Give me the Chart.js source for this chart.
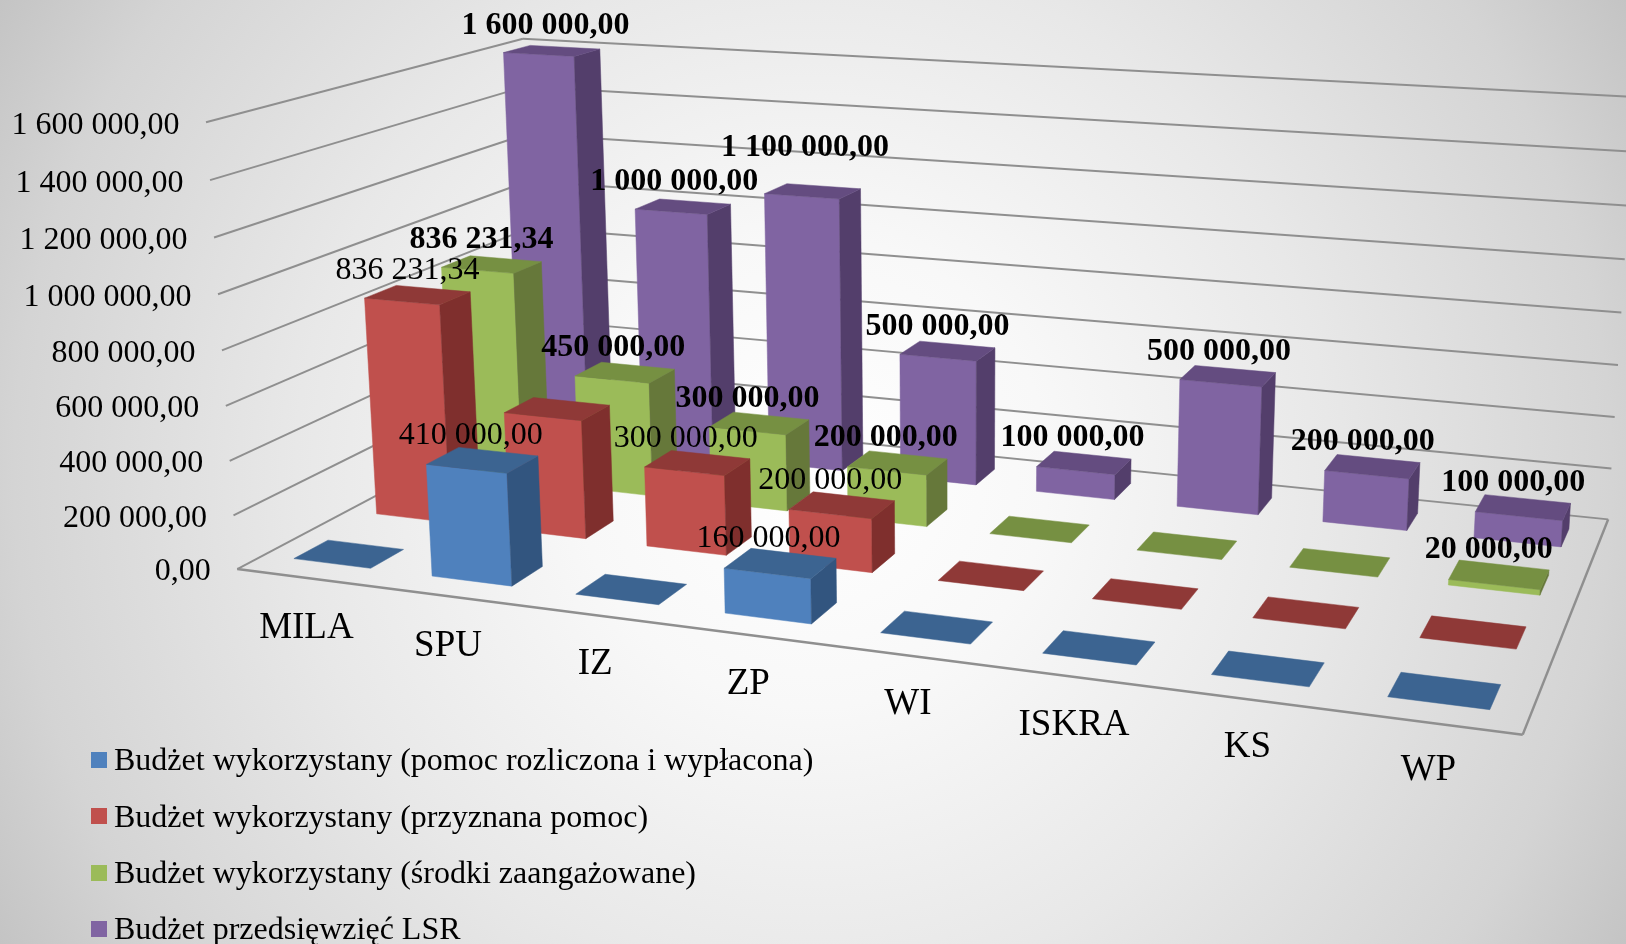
<!DOCTYPE html>
<html lang="pl">
<head>
<meta charset="utf-8">
<title>Budżet</title>
<script src="https://cdn.jsdelivr.net/npm/chart.js@4"></script>
<style>
  html, body { margin: 0; padding: 0; width: 1626px; height: 944px; overflow: hidden; }
  body { background: radial-gradient(circle 940px at 50% 50%, #ffffff 0%, #f8f8f8 25%, #e8e8e8 55%, #d4d4d4 85%, #c4c4c4 100%); }
  canvas { display: block; }
</style>
</head>
<body>
<canvas id="chart" width="1626" height="944"></canvas>
<script>
const categories = ["MILA", "SPU", "IZ", "ZP", "WI", "ISKRA", "KS", "WP"];
const usedPaid = [0, 410000, 0, 160000, 0, 0, 0, 0];
const usedGranted = [836231.34, 450000, 300000, 200000, 0, 0, 0, 0];
const usedCommitted = [836231.34, 450000, 300000, 200000, 0, 0, 0, 20000];
const lsrBudget = [1600000, 1000000, 1100000, 500000, 100000, 500000, 200000, 100000];
const seriesNames = [
  "Budżet wykorzystany (pomoc rozliczona i wypłacona)",
  "Budżet wykorzystany (przyznana pomoc)",
  "Budżet wykorzystany (środki zaangażowane)",
  "Budżet przedsięwzięć LSR"
];
const frontColors = ["#4f81bd", "#c0504d", "#9bbb59", "#8064a2"];
const sideColors = ["#32557f", "#7f2f2d", "#66783a", "#533e6b"];
const topColors = ["#3c6491", "#8f3937", "#769042", "#644c80"];
const boldLabels = [false, false, true, true];

const FONT = '"Liberation Serif", "Times New Roman", serif';
const depthFill = 0.4;

// where the corners of the plot box land on screen: [u, depth, height, x, y]
const boxCorners = [
  [0, 0, 0, 237, 568],
  [1, 0, 0, 1523, 735],
  [1, 1, 0, 1608, 519],
  [0, 1, 0, 538, 411],
  [0, 0, 1, 206, 123],
  [0, 1, 1, 523, 38],
  [1, 1, 1, 1635, 97]
];

function solveCamera(pts) {
  const rows = [], rhs = [];
  pts.forEach(([u, w, v, x, y]) => {
    rows.push([u, w, v, 1, 0, 0, 0, 0, -x * u, -x * w, -x * v]); rhs.push(x);
    rows.push([0, 0, 0, 0, u, w, v, 1, -y * u, -y * w, -y * v]); rhs.push(y);
  });
  const n = 11;
  const m = [];
  for (let i = 0; i < n; i++) {
    m.push([]);
    for (let j = 0; j < n; j++) m[i].push(rows.reduce((s, r) => s + r[i] * r[j], 0));
    m[i].push(rows.reduce((s, r, k) => s + r[i] * rhs[k], 0));
  }
  for (let i = 0; i < n; i++) {
    let best = i;
    for (let k = i + 1; k < n; k++) if (Math.abs(m[k][i]) > Math.abs(m[best][i])) best = k;
    [m[i], m[best]] = [m[best], m[i]];
    for (let k = 0; k < n; k++) {
      if (k === i) continue;
      const f = m[k][i] / m[i][i];
      for (let j = i; j <= n; j++) m[k][j] -= f * m[i][j];
    }
  }
  return m.map((r, i) => r[n] / r[i]);
}

const cam = solveCamera(boxCorners);
function project(u, w, v) {
  const d = cam[8] * u + cam[9] * w + cam[10] * v + 1;
  return [
    (cam[0] * u + cam[1] * w + cam[2] * v + cam[3]) / d,
    (cam[4] * u + cam[5] * w + cam[6] * v + cam[7]) / d
  ];
}

function formatValue(value) {
  const parts = value.toFixed(2).split(".");
  return parts[0].replace(/\B(?=(\d{3})+$)/g, " ") + "," + parts[1];
}

function poly(ctx, pts, color) {
  ctx.beginPath();
  pts.forEach((p, i) => i ? ctx.lineTo(p[0], p[1]) : ctx.moveTo(p[0], p[1]));
  ctx.closePath();
  ctx.fillStyle = color;
  ctx.strokeStyle = color;
  ctx.lineWidth = 0.5;
  ctx.fill();
  ctx.stroke();
}

function line(ctx, a, b, width) {
  ctx.beginPath();
  ctx.moveTo(a[0], a[1]);
  ctx.lineTo(b[0], b[1]);
  ctx.lineWidth = width;
  ctx.strokeStyle = "#8f8f8f";
  ctx.stroke();
}

const perspectivePlugin = {
  id: "perspective",
  beforeDatasetsDraw(chart) {
    const ctx = chart.ctx;
    const area = chart.chartArea;
    const yScale = chart.scales.y;
    const rowCount = chart.data.datasets.length;
    const heightOf = value => (yScale.bottom - yScale.getPixelForValue(value)) / yScale.height;

    ctx.save();

    // walls: one line per tick of the y scale
    yScale.ticks.forEach(tick => {
      const v = heightOf(tick.value);
      const a = project(0, 0, v), b = project(0, 1, v), c = project(1, 1, v);
      line(ctx, a, b, 2);
      line(ctx, b, c, 2);
      ctx.fillStyle = "#000";
      ctx.font = "32px " + FONT;
      ctx.textAlign = "right";
      ctx.textBaseline = "middle";
      ctx.fillText(formatValue(tick.value), a[0] - 26.5, a[1] + 3);
    });
    line(ctx, project(0, 0, 0), project(1, 0, 0), 2.5);
    line(ctx, project(1, 0, 0), project(1, 1, 0), 2.5);

    // boxes, back row first
    const labels = [];
    for (let row = rowCount - 1; row >= 0; row--) {
      const meta = chart.getDatasetMeta(row);
      meta.data.forEach((bar, i) => {
        const value = chart.data.datasets[row].data[i];
        const u0 = (bar.x - bar.width / 2 - area.left) / area.width;
        const u1 = (bar.x + bar.width / 2 - area.left) / area.width;
        const w0 = (row + (1 - depthFill) / 2) / rowCount;
        const w1 = (row + (1 + depthFill) / 2) / rowCount;
        const v = heightOf(value);
        if (value > 0) {
          poly(ctx, [project(u0, w0, 0), project(u1, w0, 0), project(u1, w0, v), project(u0, w0, v)], frontColors[row]);
          poly(ctx, [project(u1, w0, 0), project(u1, w1, 0), project(u1, w1, v), project(u1, w0, v)], sideColors[row]);
        }
        poly(ctx, [project(u0, w0, v), project(u1, w0, v), project(u1, w1, v), project(u0, w1, v)], topColors[row]);
        if (value > 0 && !(row === 1 && categories[i] === "SPU")) {
          const uMid = (u0 + u1) / 2;
          const p = project(uMid, (w0 + w1) / 2, v);
          // the tall IZ label sits higher than the others in the original
          const lift = row === 3 && categories[i] === "IZ" ? 19 : 0;
          labels.push({
            text: formatValue(value),
            x: p[0] - 14.7 + 4.7 * uMid + 8 * v,
            y: p[1] - 24.7 - lift,
            bold: boldLabels[row]
          });
        }
      });
    }

    // category names in front of the floor
    chart.data.labels.forEach((name, i) => {
      const u = (chart.scales.x.getPixelForValue(i) - area.left) / area.width;
      const p = project(u, 0.03, 0);
      ctx.fillStyle = "#000";
      ctx.font = "37px " + FONT;
      ctx.textAlign = "center";
      ctx.textBaseline = "middle";
      ctx.fillText(name, p[0] - 10.5 + 6.5 * u, p[1] + 56);
    });

    labels.forEach(l => {
      ctx.fillStyle = "#000";
      ctx.font = (l.bold ? "bold " : "") + "32px " + FONT;
      ctx.textAlign = "center";
      ctx.textBaseline = "middle";
      ctx.fillText(l.text, l.x, l.y);
    });

    // legend, stacked at the bottom left
    chart.data.datasets.forEach((ds, i) => {
      const y = 760 + i * 56.3;
      ctx.fillStyle = ds.backgroundColor;
      ctx.fillRect(91, Math.round(y - 8), 16, 16);
      ctx.fillStyle = "#000";
      ctx.font = "32px " + FONT;
      ctx.textAlign = "left";
      ctx.textBaseline = "middle";
      ctx.fillText(ds.label, 114, y + 2);
    });

    ctx.restore();
    return false;
  }
};

new Chart(document.getElementById("chart"), {
  type: "bar",
  data: {
    labels: categories,
    datasets: [usedPaid, usedGranted, usedCommitted, lsrBudget].map((values, i) => ({
      label: seriesNames[i],
      data: values,
      backgroundColor: frontColors[i]
    }))
  },
  options: {
    responsive: false,
    animation: false,
    layout: { padding: 0 },
    datasets: { bar: { grouped: false, categoryPercentage: 1, barPercentage: 0.56 } },
    scales: {
      x: { display: false },
      y: { display: false, min: 0, max: 1600000, ticks: { stepSize: 200000 } }
    },
    plugins: { legend: { display: false }, tooltip: { enabled: false } }
  },
  plugins: [perspectivePlugin]
});
</script>
</body>
</html>
